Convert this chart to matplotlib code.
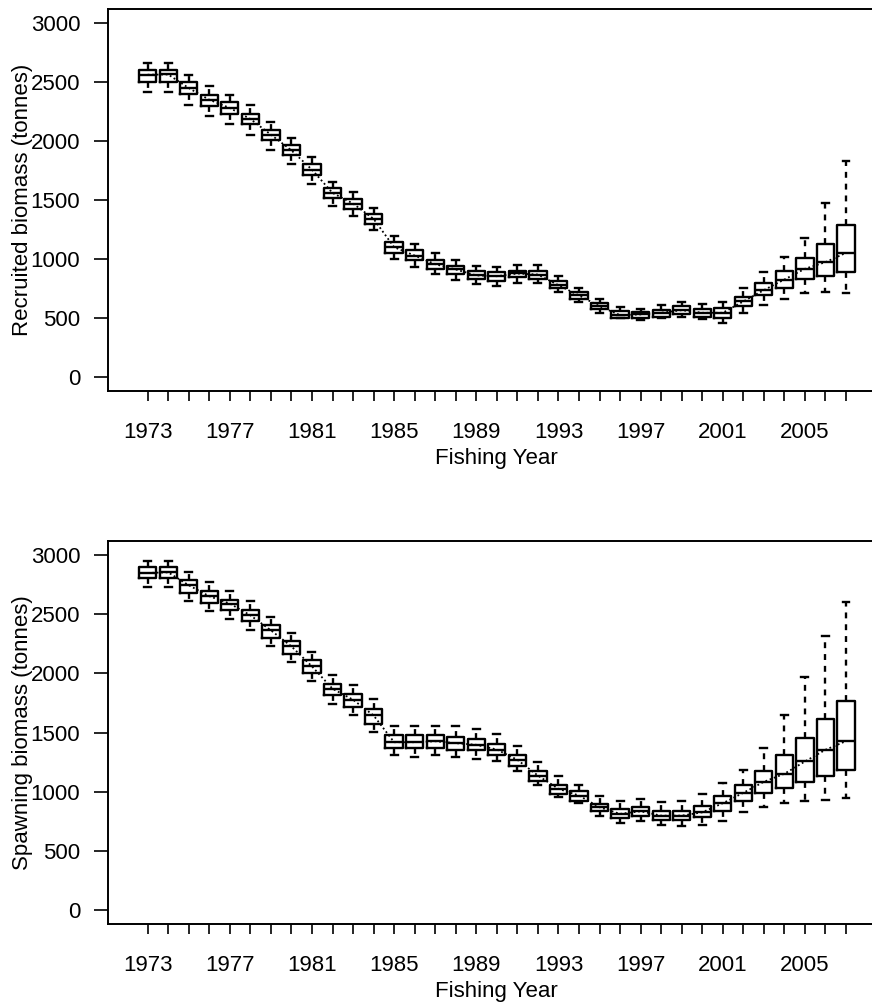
import matplotlib
matplotlib.use("Agg")
import matplotlib.pyplot as plt

plt.rcParams['font.family'] = ['Liberation Sans', 'DejaVu Sans']

years = list(range(1973, 2008))

# Recruited biomass (tonnes) - box stats
rec_whishi = [2662, 2662, 2563, 2470, 2394, 2306, 2159, 2027, 1866, 1654, 1567, 1434,
              1200, 1124, 1053, 996, 945, 935, 948, 948, 861, 757, 666, 593, 573,
              610, 635, 621, 635, 757, 889, 1019, 1180, 1477, 1829]
rec_q3 = [2605, 2605, 2503, 2394, 2334, 2233, 2097, 1968, 1803, 1604, 1513, 1380,
          1143, 1073, 996, 940, 900, 889, 903, 897, 813, 720, 630, 559, 550,
          567, 601, 573, 582, 681, 799, 903, 1011, 1124, 1287]
rec_med = [2563, 2565, 2450, 2351, 2281, 2188, 2055, 1922, 1758, 1561, 1471, 1341,
           1101, 1030, 957, 912, 862, 855, 878, 869, 779, 692, 601, 525, 531,
           545, 567, 545, 545, 641, 737, 827, 918, 974, 1053]
rec_q1 = [2501, 2501, 2401, 2295, 2233, 2145, 2013, 1880, 1716, 1519, 1426, 1301,
          1053, 991, 918, 870, 830, 813, 850, 833, 751, 664, 573, 503, 503,
          511, 537, 508, 503, 601, 694, 757, 833, 861, 889]
rec_whislo = [2416, 2416, 2309, 2216, 2148, 2055, 1928, 1807, 1640, 1454, 1363, 1245,
              997, 931, 875, 827, 790, 770, 799, 799, 723, 635, 545, 497, 480,
              497, 511, 489, 461, 539, 610, 666, 715, 723, 715]

# Spawning biomass (tonnes)
spn_whishi = [2952, 2952, 2858, 2774, 2698, 2610, 2477, 2342, 2181, 1990, 1899, 1781,
              1560, 1560, 1560, 1552, 1533, 1490, 1383, 1250, 1137, 1061, 968, 925, 940,
              911, 925, 982, 1072, 1185, 1368, 1645, 1969, 2314, 2604]
spn_q3 = [2896, 2896, 2788, 2698, 2625, 2540, 2407, 2274, 2111, 1914, 1829, 1696,
          1476, 1476, 1476, 1461, 1448, 1400, 1315, 1179, 1061, 1004, 897, 855, 869,
          841, 835, 877, 968, 1058, 1174, 1312, 1456, 1617, 1766]
spn_med = [2850, 2855, 2746, 2653, 2591, 2492, 2365, 2229, 2060, 1871, 1778, 1645,
           1419, 1419, 1427, 1411, 1397, 1357, 1270, 1137, 1025, 968, 869, 813, 835,
           798, 798, 826, 903, 991, 1084, 1152, 1256, 1355, 1428]
spn_q1 = [2803, 2803, 2684, 2596, 2534, 2444, 2300, 2168, 2007, 1814, 1715, 1575,
          1372, 1372, 1372, 1355, 1349, 1315, 1222, 1095, 982, 925, 835, 779, 798,
          764, 762, 784, 841, 919, 991, 1033, 1080, 1137, 1185]
spn_whislo = [2731, 2731, 2610, 2526, 2464, 2371, 2229, 2097, 1933, 1738, 1653, 1504,
              1315, 1292, 1315, 1292, 1278, 1256, 1179, 1061, 959, 903, 798, 737, 756,
              722, 708, 722, 756, 826, 869, 903, 920, 934, 945]

label_years = list(range(1973, 2006, 4))
yticks = [0, 500, 1000, 1500, 2000, 2500, 3000]

W, H = 872, 1002
fig = plt.figure(figsize=(W / 100, H / 100), dpi=100)


def px_axes(left, top, right, bottom):
    return fig.add_axes([left / W, 1 - bottom / H, (right - left) / W, (bottom - top) / H])


def draw_panel(ax, whislo, q1, med, q3, whishi, ylabel):
    stats = []
    for i in range(len(years)):
        stats.append(dict(med=med[i], q1=q1[i], q3=q3[i], whislo=whislo[i], whishi=whishi[i],
                          fliers=[]))
    lw = 1.7
    ax.bxp(stats, positions=years, widths=0.84, capwidths=0.34, manage_ticks=False,
           boxprops=dict(color='black', linewidth=lw),
           medianprops=dict(color='black', linewidth=lw),
           whiskerprops=dict(color='black', linewidth=lw, linestyle=(0, (2.5, 2.5))),
           capprops=dict(color='black', linewidth=lw))
    # thin dotted line through the medians
    ax.plot(years, med, color='black', linewidth=1.3, linestyle=(0, (1, 1.5)), zorder=3)

    ax.set_xlim(1971.07, 2008.85)
    ax.set_ylim(-118, 3120)
    ax.set_yticks(yticks)
    ax.set_xticks(years, minor=True)
    ax.set_xticks(label_years)
    ax.tick_params(axis='x', which='both', direction='out', length=7.2, width=1.2,
                   pad=15, labelsize=16)
    ax.tick_params(axis='y', direction='out', length=10, width=1.2, pad=10, labelsize=16)
    for s in ax.spines.values():
        s.set_linewidth(1.4)
    ax.set_xlabel('Fishing Year', fontsize=16)
    ax.xaxis.set_label_coords((496 - 108) / (884 - 108), -0.148)
    ax.set_ylabel(ylabel, fontsize=16)
    ax.yaxis.set_label_coords(-0.097, 0.5)


ax1 = px_axes(108, 9, 884, 391)
draw_panel(ax1, rec_whislo, rec_q1, rec_med, rec_q3, rec_whishi, 'Recruited biomass (tonnes)')

ax2 = px_axes(108, 541, 884, 924)
draw_panel(ax2, spn_whislo, spn_q1, spn_med, spn_q3, spn_whishi, 'Spawning biomass (tonnes)')

fig.savefig('out.png', dpi=100)
